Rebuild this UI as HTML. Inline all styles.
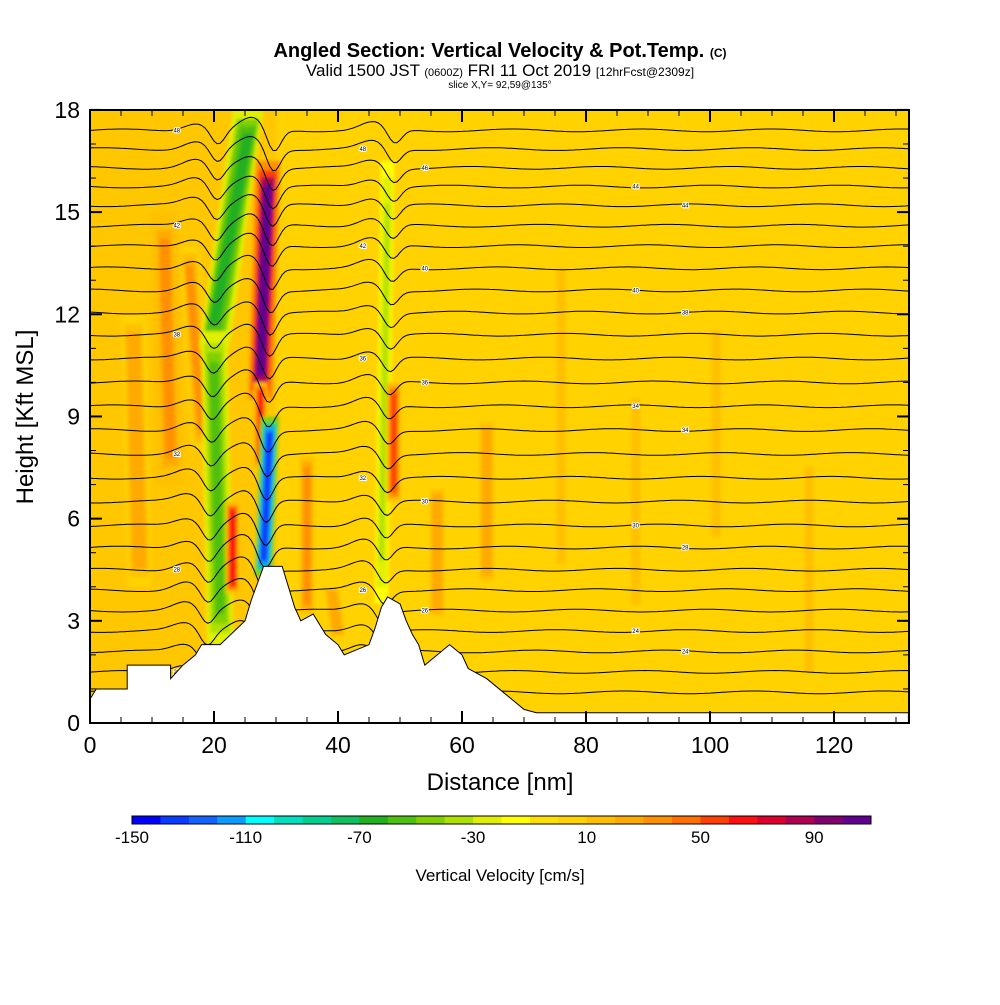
<!DOCTYPE html>
<html><head><meta charset="utf-8"><style>
body{margin:0;background:#fff;width:1000px;height:1000px;overflow:hidden;font-family:"Liberation Sans",sans-serif}
</style></head><body>
<svg id="s" width="1000" height="1000" xmlns="http://www.w3.org/2000/svg">
<text x="500" y="57" text-anchor="middle" font-size="20" font-weight="bold">Angled Section: Vertical Velocity &amp; Pot.Temp. <tspan font-size="12">(C)</tspan></text>
<text x="500" y="76" text-anchor="middle" font-size="17">Valid 1500 JST <tspan font-size="11">(0600Z)</tspan> FRI 11 Oct 2019 <tspan font-size="12">[12hrFcst@2309z]</tspan></text>
<text x="500" y="88" text-anchor="middle" font-size="10">slice X,Y= 92,59@135°</text>
<defs><clipPath id="pc"><rect x="90" y="110" width="819" height="613"/></clipPath>
<filter id="bl" x="-20%" y="-20%" width="140%" height="140%"><feGaussianBlur stdDeviation="1.5"/></filter></defs>
<g clip-path="url(#pc)">
<rect x="90" y="110" width="819" height="613" fill="#ffd200"/>
<g id="field" filter="url(#bl)"></g>
<g id="plot"></g>
</g>
<g id="axes"></g>
<text x="500" y="790" text-anchor="middle" font-size="24">Distance [nm]</text>
<text transform="translate(33,417) rotate(-90)" text-anchor="middle" font-size="24">Height [Kft MSL]</text>
<g id="cbar"></g>
<text x="500" y="881" text-anchor="middle" font-size="17">Vertical Velocity [cm/s]</text>
</svg>
<script>
const xTicks=[0,20,40,60,80,100,120];
const yTicks=[0,3,6,9,12,15,18];
const terrainX=[0,1,6,6,13,13,15,17,18,21,25,26,28,31,32,33,34,36,38,40,41,45,46,47,48,50,51,52,53,54,58,60,61,64,66,68,70,72,132];
const terrainH=[0.7,1.0,1.0,1.7,1.7,1.3,1.7,2.0,2.3,2.3,3.0,3.6,4.6,4.6,4.0,3.4,3.0,3.2,2.6,2.3,2.0,2.3,2.8,3.4,3.7,3.5,3.0,2.6,2.3,1.7,2.3,2.0,1.6,1.3,1.0,0.7,0.4,0.3,0.3];
const contourBase=[17.4,16.85,16.3,15.75,15.2,14.6,14.0,13.35,12.7,12.05,11.4,10.7,10.0,9.3,8.6,7.9,7.2,6.5,5.8,5.15,4.5,3.9,3.3,2.7,2.1,1.5,0.9];
const contourLabels=[48,48,46,44,44,42,42,40,40,38,38,36,36,34,34,32,32,30,30,28,28,26,26,24,24,22,22];
// velocity features: x at top, x at bottom, top kft, bottom kft, half-width nm, core value cm/s
const featX1=[12,16,7,35,56,64,20,25.5,20,28.7,27.5,29,23,48,49,39,76,88,101,116];
const featX2=[13,18,8,35,56,64,20.5,20,21,27.5,27.5,28,23,47,49,40,76,88,101,116];
const featTop=[15,14,12,8,7,9,9,18,11.5,16.5,10,9,6.5,16.5,10,4,14,10,12,8];
const featBot=[7,8,4,3,3,4,4,11,2.3,9.5,7.5,4.3,3.8,3.5,6.5,2.5,4,3,5,1];
const featW=[2.2,1.6,2.0,1.5,1.5,1.5,1.3,2.4,2.1,2.0,1.1,1.5,1.1,1.1,1.1,1.5,1.3,1.3,1.3,1.3];
const featV=[35,30,25,30,25,25,30,-70,-60,100,60,-140,65,-35,55,25,18,18,18,18];
const cbVals=[-150,-140,-130,-120,-110,-100,-90,-80,-70,-60,-50,-40,-30,-20,-10,0,10,20,30,40,50,60,70,80,90,100];
const cbColors=["#0000ff","#0a3cff","#1464ff","#0a9cff","#00ffff","#00e0c0","#00d090","#10c060","#20b020","#50c010","#80d000","#b0e000","#e0f000","#ffff00","#ffe000","#ffd200","#ffc000","#ffaa00","#ff9000","#ff7000","#ff4000","#ff1010","#e00030","#b00050","#800070","#600090"];
const cbLabels=[-150,-110,-70,-30,10,50,90];
const X=v=>90+v*6.2, Y=h=>723-h*34.06;
const NS="http://www.w3.org/2000/svg";
function mk(t,a,p){const e=document.createElementNS(NS,t);for(const k in a)e.setAttribute(k,a[k]);p.appendChild(e);return e;}
function col(v){let i=Math.floor((v+150)/10);i=Math.max(0,Math.min(25,i));return cbColors[i];}
const field=document.getElementById('field'),plot=document.getElementById('plot');
const wash=mk('rect',{x:X(0),y:Y(18),width:X(30)-X(0),height:Y(0)-Y(18),fill:'#ffc000',opacity:0.6},field);


const shells=[1,0.75,0.55,0.35],mult=[0.3,0.55,0.8,1];
for(let i=0;i<featX1.length;i++){
  shells.forEach((f,j)=>{
    const w=featW[i]*f,val=featV[i]*mult[j]+(featV[i]>0?0:-10*(1-mult[j]));
    const dh=(featTop[i]-featBot[i])*(1-f)*0.15;
    const pts=[[featX1[i]-w,featTop[i]-dh],[featX1[i]+w,featTop[i]-dh],[featX2[i]+w,featBot[i]+dh],[featX2[i]-w,featBot[i]+dh]];
    const p=mk('polygon',{points:pts.map(q=>X(q[0]).toFixed(1)+','+Y(q[1]).toFixed(1)).join(' '),fill:col(val)},field);
    
    
  });
}
const bumpX=[19,28,47.5],bumpA=[0.45,0.7,0.45];
contourBase.forEach((h,k)=>{
  let d='';
  for(let x=0;x<=132;x+=0.5){
    let y=h+0.04*Math.sin(x*0.3+k);
    bumpX.forEach((bx,j)=>{const c=bx+(h-8)*0.12;const dx=x-c;
      y+= 0.5*bumpA[j]*Math.exp(-(dx+3)*(dx+3)/8) - bumpA[j]*Math.exp(-(dx-0.5)*(dx-0.5)/2.5);});
    d+=(x==0?'M':'L')+X(x).toFixed(1)+','+Y(y).toFixed(1);
  }
  const p=mk('path',{d:d,fill:'none',stroke:'#000','stroke-width':1},plot);
  
  
  const lx=[14,44,54,88,96][k%5];
  const t=mk('text',{x:X(lx),y:Y(h)+2,'font-size':6,'text-anchor':'middle',fill:'#000',stroke:'#fff','stroke-width':2,'paint-order':'stroke'},plot);
  t.textContent=contourLabels[k];
  
  
});
let td='M'+X(0)+','+Y(-1);
terrainX.forEach((x,i)=>{td+=' L'+X(x)+','+Y(terrainH[i]);});
td+=' L'+X(132)+','+Y(-1)+' Z';
const tp=mk('path',{d:td,fill:'#fff',stroke:'#000','stroke-width':1},plot);


const ax=document.getElementById('axes');
const fr=mk('rect',{x:90,y:110,width:819,height:613,fill:'none',stroke:'#000','stroke-width':2},ax);


xTicks.forEach(v=>{
  mk('line',{x1:X(v),x2:X(v),y1:723,y2:711,stroke:'#000','stroke-width':2},ax);
  mk('line',{x1:X(v),x2:X(v),y1:110,y2:122,stroke:'#000','stroke-width':2},ax);
  const t=mk('text',{x:X(v),y:753,'text-anchor':'middle','font-size':23},ax);t.textContent=v;
  
  
});
for(let v=5;v<132;v+=5){if(v%20){mk('line',{x1:X(v),x2:X(v),y1:723,y2:717,stroke:'#000'},ax);mk('line',{x1:X(v),x2:X(v),y1:110,y2:116,stroke:'#000'},ax);}}
yTicks.forEach(v=>{
  mk('line',{x1:90,x2:102,y1:Y(v),y2:Y(v),stroke:'#000','stroke-width':2},ax);
  mk('line',{x1:897,x2:909,y1:Y(v),y2:Y(v),stroke:'#000','stroke-width':2},ax);
  const t=mk('text',{x:80,y:Y(v)+8,'text-anchor':'end','font-size':23},ax);t.textContent=v;
  
  
});
for(let v=1;v<18;v++){if(v%3){mk('line',{x1:90,x2:96,y1:Y(v),y2:Y(v),stroke:'#000'},ax);mk('line',{x1:903,x2:909,y1:Y(v),y2:Y(v),stroke:'#000'},ax);}}
const cb=document.getElementById('cbar');const cw=739/26;
cbVals.forEach((v,i)=>{const r=mk('rect',{x:132+i*cw,y:816,width:cw+0.5,height:8,fill:cbColors[i]},cb);
  
  });
mk('rect',{x:132,y:816,width:739,height:8,fill:'none',stroke:'#000'},cb);
cbLabels.forEach(v=>{const t=mk('text',{x:132+(v+150)/10*cw,y:843,'text-anchor':'middle','font-size':17},cb);t.textContent=v;
  
  });
</script>
</body></html>
